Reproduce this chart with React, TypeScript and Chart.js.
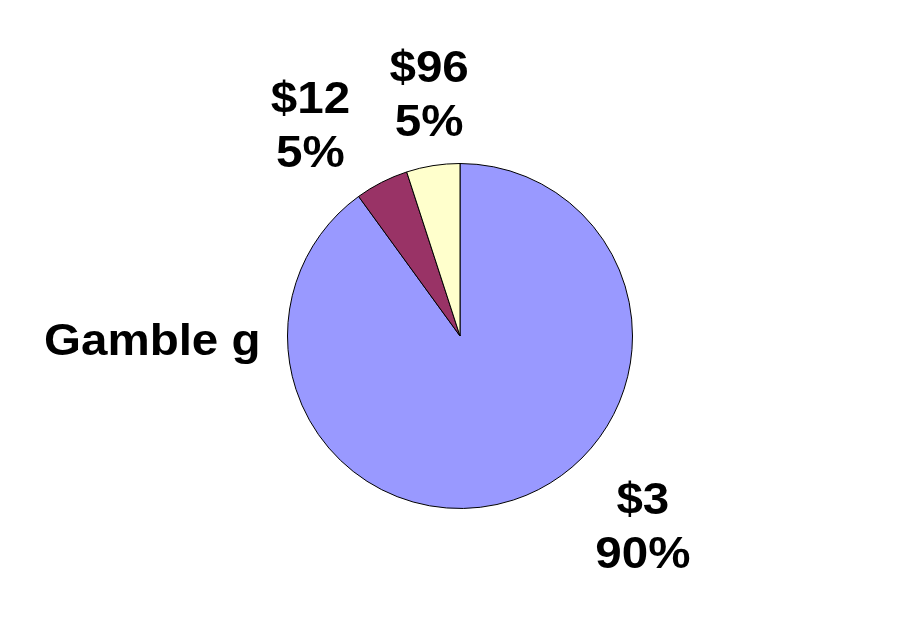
import React, { useEffect, useRef } from "react";
import { Chart, registerables } from "chart.js";

Chart.register(...registerables);

const categories = ["$3", "$12", "$96"];
const values = [90, 5, 5];
const percentLabels = ["90%", "5%", "5%"];
const colors = ["#9999FF", "#993366", "#FFFFCC"];
const chartTitle = "Gamble g";

// label first-line baselines relative to pie center, in units of radius
const labelOffsets = [
  { dx: 1.06, dy: 1.029 },
  { dx: -0.867, dy: -1.295 },
  { dx: -0.179, dy: -1.474 },
];

const labelPlugin = {
  id: "sliceLabels",
  afterDraw(chart: any) {
    const meta = chart.getDatasetMeta(0);
    const arc = meta.data[0];
    if (!arc) return;
    const cx = arc.x;
    const cy = arc.y;
    const r = arc.outerRadius;
    const ctx = chart.ctx;
    const sx = 1.08;
    const text = (s: string, x: number, y: number, align: CanvasTextAlign) => {
      ctx.save();
      ctx.translate(x, y);
      ctx.scale(sx, 1);
      ctx.textAlign = align;
      ctx.fillText(s, 0, 0);
      ctx.restore();
    };
    ctx.save();
    ctx.fillStyle = "#000";
    ctx.font = "bold 44px 'Liberation Sans', Arial, sans-serif";
    ctx.textBaseline = "alphabetic";
    categories.forEach((c, i) => {
      const o = labelOffsets[i];
      const x = cx + o.dx * r;
      const y = cy + o.dy * r;
      text(c, x, y, "center");
      text(percentLabels[i], x, y + 54, "center");
    });
    text(chartTitle, 44, cy + 19, "left");
    ctx.restore();
  },
};

export default function App() {
  const ref = useRef<HTMLCanvasElement>(null);
  useEffect(() => {
    if (!ref.current) return;
    const chart = new Chart(ref.current, {
      type: "pie",
      data: {
        labels: categories,
        datasets: [
          {
            data: values,
            backgroundColor: colors,
            borderColor: "#000",
            borderWidth: 1,
          },
        ],
      },
      options: {
        responsive: false,
        animation: false,
        layout: { padding: { left: 287, right: 277, top: 163, bottom: 113 } },
        plugins: {
          legend: { display: false },
          tooltip: { enabled: false },
          title: { display: false },
        },
      },
      plugins: [labelPlugin],
    });
    return () => chart.destroy();
  }, []);
  return (
    <div style={{ position: "absolute", left: 0, top: 0, width: 910, height: 622, background: "#fff" }}>
      <canvas ref={ref} width={910} height={622} />
    </div>
  );
}
